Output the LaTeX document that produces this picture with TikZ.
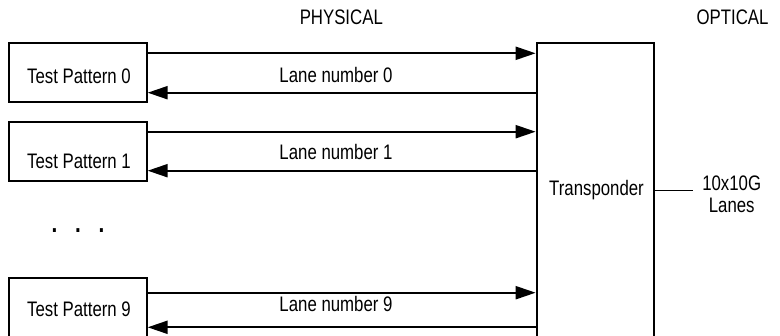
\documentclass[tikz,border=0pt]{standalone}
\usepackage{fontspec}
\setmainfont{Liberation Sans}[FakeStretch=0.80]
\usetikzlibrary{arrows.meta}
\begin{document}
\begin{tikzpicture}[x=1pt,y=-1pt,
  every node/.style={font=\fontsize{21pt}{22pt}\selectfont, text=black},
  tpbox/.style={draw, line width=2.1pt, minimum width=137.2pt, minimum height=58.4pt, inner sep=0pt},
  txt/.style={anchor=base, inner sep=0pt},
  lane/.style={line width=2.1pt, -{Triangle[length=20pt,width=13pt]}}
]
\useasboundingbox (0,0) rectangle (780,336);
\clip (0,0) rectangle (780,336);

% headings
\node[txt] (phys) at (341.3,25) {PHYSICAL};
\node[txt] (opt) at (732.5,25) {OPTICAL};

% test pattern boxes
\node[tpbox] (tp0) at (78,72.5) {};
\node[tpbox] (tp1) at (78,151.5) {};
\node[tpbox] (tp9) at (78,307.5) {};
\node[txt] (tp0t) at (79,83.4) {Test Pattern 0};
\node[txt] (tp1t) at (79,168.5) {Test Pattern 1};
\node[txt] (tp9t) at (79,316.5) {Test Pattern 9};

% dots
\node[txt, font=\fontsize{26pt}{26pt}\selectfont\bfseries] (dots) at (78,233)
  {.\hspace{17.8pt}.\hspace{17.8pt}.};

% transponder
\node[draw, line width=2.1pt, minimum width=117.3pt, minimum height=300pt, inner sep=0pt]
  (trans) at (595.35,193.3) {};
\node[txt] (transt) at (596.5,196) {Transponder};

% lanes
\coordinate (r0a) at (0,53.3);
\coordinate (r0b) at (0,92.7);
\coordinate (r1a) at (0,131.7);
\coordinate (r1b) at (0,170.7);
\coordinate (r9a) at (0,292.7);
\coordinate (r9b) at (0,327.3);
\draw[lane] (tp0.east |- r0a) -- (trans.west |- r0a);
\draw[lane] (trans.west |- r0b) -- (tp0.east |- r0b);
\draw[lane] (tp1.east |- r1a) -- (trans.west |- r1a);
\draw[lane] (trans.west |- r1b) -- (tp1.east |- r1b);
\draw[lane] (tp9.east |- r9a) -- (trans.west |- r9a);
\draw[lane] (trans.west |- r9b) -- (tp9.east |- r9b);
\node[txt] (l0) at (336,82.8) {Lane number 0};
\node[txt] (l1) at (336,160) {Lane number 1};
\node[txt] (l9) at (336,311.5) {Lane number 9};

% optical output
\node[inner sep=0pt, align=center, font=\fontsize{21pt}{22pt}\selectfont] (lanesout) at (731.7,194) {10x10G\\Lanes};
\coordinate (oy) at (0,190.7);
\draw[line width=1.5pt] (trans.east |- oy) -- ([xshift=-9pt]lanesout.west |- oy);
\end{tikzpicture}
\end{document}
